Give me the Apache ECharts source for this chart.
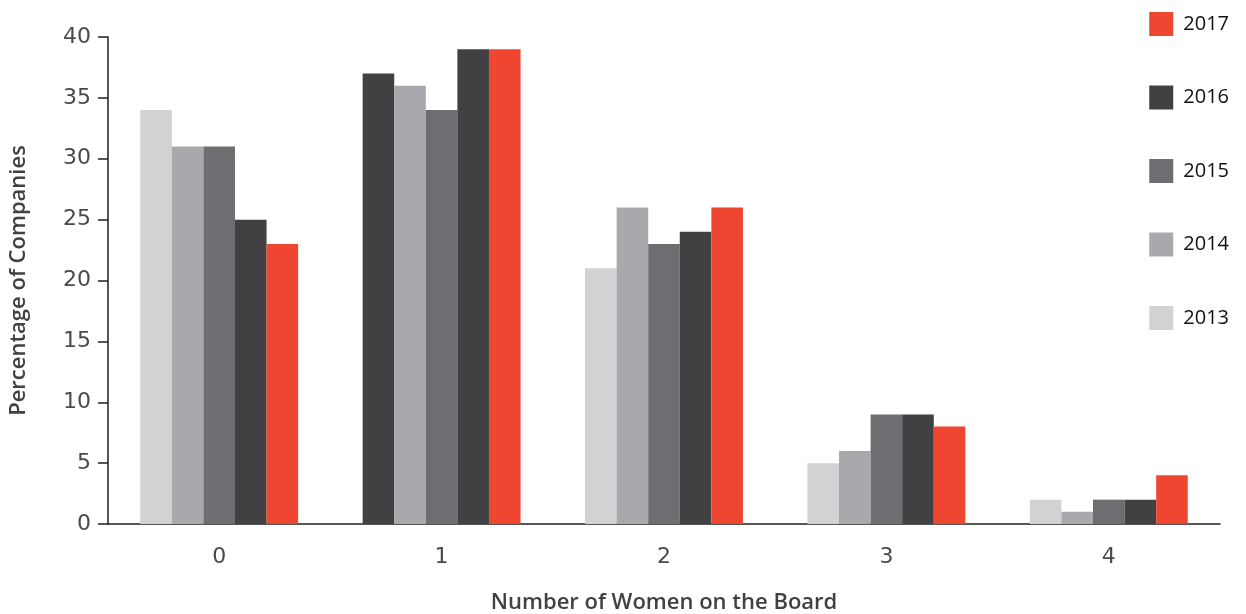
<!DOCTYPE html>
<html>
<head>
<meta charset="utf-8">
<script src="https://cdn.jsdelivr.net/npm/echarts@6/dist/echarts.min.js"></script>
<style>html,body{margin:0;padding:0;background:#fff}#c{width:1246px;height:614px}</style>
</head>
<body>
<div id="c"></div>
<script>
const categories = ['0', '1', '2', '3', '4'];
const years = ['2013', '2014', '2015', '2016', '2017'];
const v2013 = [34, 37, 21, 5, 2];
const v2014 = [31, 36, 26, 6, 1];
const v2015 = [31, 34, 23, 9, 2];
const v2016 = [25, 39, 24, 9, 2];
const v2017 = [23, 39, 26, 8, 4];
const yTicks = [0, 5, 10, 15, 20, 25, 30, 35, 40];

const colors = ['#d1d2d4', '#a7a9ac', '#6d6e71', '#414042', '#ef4631'];
const values = [v2013, v2014, v2015, v2016, v2017];

const series = years.map((y, i) => ({
  name: y,
  type: 'bar',
  barGap: '0%',
  barCategoryGap: '29%',
  itemStyle: { color: colors[i] },
  data: values[i].map((v, j) => (i === 0 && j === 1) ? { value: v, itemStyle: { color: '#414042' } } : v)
}));

const chart = echarts.init(document.getElementById('c'));
chart.setOption({
  animation: false,
  color: colors,
  grid: { left: 108, right: 26, top: 37, bottom: 90, containLabel: false, outerBoundsMode: 'none' },
  legend: {
    orient: 'vertical',
    right: 12,
    top: 7,
    itemWidth: 24,
    itemHeight: 24,
    itemGap: 49.5,
    itemStyle: { borderWidth: 0 },
    icon: 'rect',
    data: ['2017', '2016', '2015', '2014', '2013'],
    textStyle: { fontFamily: 'Open Sans', fontSize: 20, color: '#111', lineHeight: 24, padding: [0, 0, 0, 5] }
  },
  xAxis: {
    type: 'category',
    data: categories,
    name: 'Number of Women on the Board',
    nameLocation: 'middle',
    nameGap: 68,
    nameTextStyle: { fontFamily: 'Open Sans', fontSize: 22, fontWeight: 600, color: '#414042' },
    axisLine: { lineStyle: { color: '#231f20', width: 1.5 } },
    axisTick: { inside: true, length: 9, lineStyle: { color: '#231f20', width: 1.5 } },
    axisLabel: { margin: 22, fontFamily: 'DejaVu Sans', fontSize: 22, color: '#4a4a4c' }
  },
  yAxis: {
    type: 'value',
    min: 0,
    max: 40,
    interval: 5,
    name: 'Percentage of Companies',
    nameLocation: 'middle',
    nameGap: 78,
    nameTextStyle: { fontFamily: 'Open Sans', fontSize: 22, fontWeight: 600, color: '#414042' },
    axisLine: { show: true, lineStyle: { color: '#231f20', width: 1.5 } },
    axisTick: { show: true, length: 10, lineStyle: { color: '#231f20', width: 1.5 } },
    splitLine: { show: false },
    axisLabel: {
      margin: 17, fontFamily: 'DejaVu Sans', fontSize: 22, color: '#4a4a4c',
      formatter: v => yTicks.includes(v) ? String(v) : ''
    }
  },
  series: series
});
</script>
</body>
</html>
